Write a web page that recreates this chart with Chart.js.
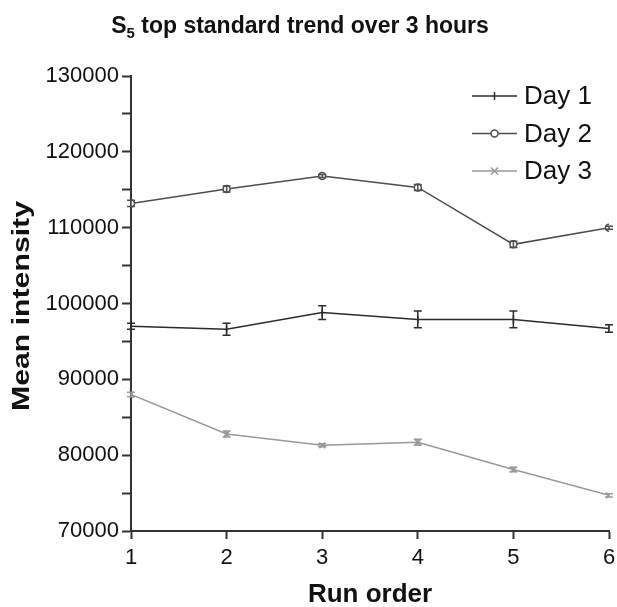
<!DOCTYPE html>
<html>
<head>
<meta charset="utf-8">
<script src="https://cdn.jsdelivr.net/npm/chart.js@4.4.0/dist/chart.umd.min.js"></script>
<style>
  html, body { margin: 0; padding: 0; background: #fff; }
  #wrap { width: 617px; height: 607px; position: relative; }
</style>
</head>
<body>
<div id="wrap"><canvas id="trendChart" width="617" height="607"></canvas></div>
<script>
// data
const runOrder = [1, 2, 3, 4, 5, 6];
const day1 = [97000, 96600, 98800, 97900, 97900, 96700];
const day1Err = [400, 800, 900, 1100, 1100, 500];
const day2 = [113200, 115100, 116800, 115300, 107800, 110000];
const day2Err = [400, 400, 200, 400, 400, 200];
const day3 = [88000, 82800, 81300, 81700, 78100, 74700];
const day3Err = [300, 400, 200, 400, 300, 200];
const yTicks = [70000, 80000, 90000, 100000, 110000, 120000, 130000];

const FONT = "'Liberation Sans', Arial, sans-serif";

function toPoints(vals, errs) {
  return runOrder.map((x, i) => ({ x: x, y: vals[i], err: errs[i] }));
}

// error bars, drawn with the chart's own scales
const errorBars = {
  id: 'errorBars',
  afterDatasetsDraw(chart) {
    const { ctx, scales: { x, y } } = chart;
    chart.data.datasets.forEach(ds => {
      ctx.save();
      ctx.strokeStyle = ds.borderColor;
      ctx.lineWidth = 1.5;
      ds.data.forEach(p => {
        const px = x.getPixelForValue(p.x);
        const top = y.getPixelForValue(p.y + p.err);
        const bot = y.getPixelForValue(p.y - p.err);
        ctx.beginPath();
        ctx.moveTo(px, top); ctx.lineTo(px, bot);
        ctx.moveTo(px - 4, top); ctx.lineTo(px + 4, top);
        ctx.moveTo(px - 4, bot); ctx.lineTo(px + 4, bot);
        ctx.stroke();
      });
      ctx.restore();
    });
  }
};

// title with subscript, axis titles, legend with line samples
const extras = {
  id: 'extras',
  afterDraw(chart) {
    const ctx = chart.ctx;
    const area = chart.chartArea;
    ctx.save();
    ctx.fillStyle = '#111';
    ctx.textBaseline = 'alphabetic';
    // title
    const big = "bold 23px " + FONT, small = "bold 15px " + FONT;
    const rest = " top standard trend over 3 hours";
    ctx.font = big; const wS = ctx.measureText("S").width; const wR = ctx.measureText(rest).width;
    ctx.font = small; const w5 = ctx.measureText("5").width;
    let tx = 300 - (wS + w5 + wR) / 2;
    const ty = 33;
    ctx.font = big; ctx.fillText("S", tx, ty); tx += wS;
    ctx.font = small; ctx.fillText("5", tx, ty + 5); tx += w5;
    ctx.font = big; ctx.fillText(rest, tx, ty);

    // x axis title
    ctx.font = "bold 26px " + FONT;
    ctx.textAlign = 'center';
    ctx.textBaseline = 'middle';
    ctx.fillText('Run order', (area.left + area.right) / 2, 595);

    // y axis title (a little stretched along its length like the original)
    ctx.save();
    ctx.translate(22, 306);
    ctx.rotate(-Math.PI / 2);
    ctx.font = "bold 24px " + FONT;
    const yw = ctx.measureText('Mean intensity').width;
    ctx.scale(210 / yw, 1);
    ctx.fillText('Mean intensity', 0, 0);
    ctx.restore();

    // legend
    ctx.font = "26px " + FONT;
    ctx.textAlign = 'left';
    ctx.textBaseline = 'middle';
    chart.data.datasets.forEach((ds, i) => {
      const ly = 96 + i * 37.5;
      const x0 = 472, x1 = 517, xm = (x0 + x1) / 2;
      ctx.strokeStyle = ds.borderColor;
      ctx.lineWidth = 1.5;
      ctx.beginPath(); ctx.moveTo(x0, ly); ctx.lineTo(x1, ly); ctx.stroke();
      ctx.beginPath();
      if (ds.pointStyle === 'circle') {
        ctx.fillStyle = '#fff';
        ctx.arc(xm, ly, 3.5, 0, Math.PI * 2); ctx.fill(); ctx.stroke();
      } else if (ds.pointStyle === 'crossRot') {
        ctx.moveTo(xm - 3.5, ly - 3.5); ctx.lineTo(xm + 3.5, ly + 3.5);
        ctx.moveTo(xm - 3.5, ly + 3.5); ctx.lineTo(xm + 3.5, ly - 3.5); ctx.stroke();
      } else {
        ctx.moveTo(xm, ly - 4); ctx.lineTo(xm, ly + 4); ctx.stroke();
      }
      ctx.fillStyle = '#111';
      ctx.fillText(ds.label, 524, ly + 1);
    });
    ctx.restore();
  }
};

new Chart(document.getElementById('trendChart'), {
  type: 'line',
  data: {
    datasets: [
      {
        label: 'Day 1', data: toPoints(day1, day1Err),
        borderColor: '#2b2b2b', backgroundColor: '#2b2b2b', borderWidth: 1.5,
        pointStyle: 'line', rotation: 90, pointRadius: 4, pointBorderWidth: 1.5
      },
      {
        label: 'Day 2', data: toPoints(day2, day2Err),
        borderColor: '#4d4d4d', backgroundColor: '#fff', borderWidth: 1.5,
        pointStyle: 'circle', pointRadius: 3.5, pointBorderWidth: 1.5
      },
      {
        label: 'Day 3', data: toPoints(day3, day3Err),
        borderColor: '#999999', backgroundColor: '#999999', borderWidth: 1.5,
        pointStyle: 'crossRot', pointRadius: 4, pointBorderWidth: 1.5
      }
    ]
  },
  options: {
    responsive: false,
    animation: false,
    layout: { padding: { top: 76, right: 8, left: 0, bottom: 0 } },
    plugins: { legend: { display: false }, title: { display: false }, tooltip: { enabled: false } },
    scales: {
      x: {
        type: 'linear', min: 1, max: 6,
        afterFit: s => { s.height = 76; s.paddingLeft = 0; s.paddingRight = 0; },
        border: { color: '#333', width: 2 },
        grid: { drawOnChartArea: false, tickLength: 8, tickColor: '#333', tickWidth: 2 },
        ticks: { stepSize: 1, color: '#111', font: { family: FONT, size: 22 }, padding: 6 },
        title: { display: false }
      },
      y: {
        min: yTicks[0], max: yTicks[yTicks.length - 1],
        afterFit: s => { s.width = 131; },
        border: { color: '#333', width: 2 },
        grid: { drawOnChartArea: false, tickLength: 9, tickColor: '#333', tickWidth: 2 },
        ticks: {
          stepSize: 5000, color: '#111', font: { family: FONT, size: 22 }, padding: 3,
          callback: v => yTicks.includes(v) ? String(v) : ''
        },
        title: { display: false }
      }
    }
  },
  plugins: [errorBars, extras]
});
</script>
</body>
</html>
